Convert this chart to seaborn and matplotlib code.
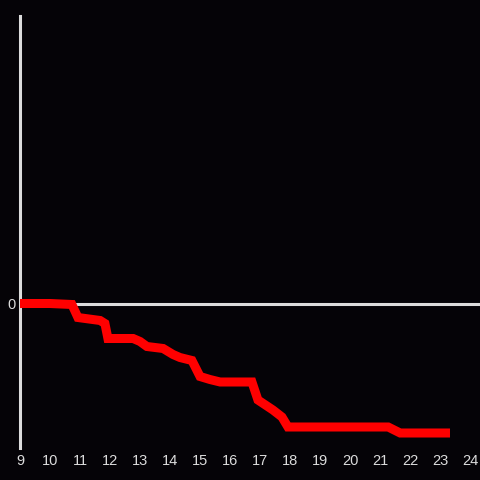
import numpy as np
import pandas as pd
import matplotlib
matplotlib.use("Agg")
import matplotlib.pyplot as plt
import seaborn as sns

# hour of day and cumulative value
hours = [9.0, 10.0, 10.73, 10.93, 11.67, 11.83, 11.93, 12.77, 13.0, 13.23,
         13.77, 14.1, 14.33, 14.73, 15.0, 15.33, 15.67, 16.73, 16.93, 17.43,
         17.73, 17.93, 21.27, 21.67, 23.33]
values = [0.0, 0.0, -0.1, -1.4, -1.7, -2.0, -3.5, -3.5, -3.8, -4.3,
          -4.5, -5.1, -5.4, -5.7, -7.3, -7.6, -7.85, -7.85, -9.65, -10.65,
          -11.35, -12.35, -12.35, -12.95, -12.95]
xticks = list(range(9, 25))

bg = "#050307"
fg = "#dcdcdc"

sns.set_theme(style="dark", rc={"axes.facecolor": bg, "figure.facecolor": bg})
plt.rcParams["font.family"] = ["Liberation Sans", "DejaVu Sans"]

df = pd.DataFrame({"hour": hours, "value": values})

fig = plt.figure(figsize=(4.8, 4.8), dpi=100)
ax = fig.add_axes([20 / 480, 32 / 480, 460 / 480, 432 / 480])

ax.axhline(0, color=fg, lw=2.2, zorder=1)
sns.lineplot(data=df, x="hour", y="value", color="#ff0000", lw=6.5,
             ax=ax, zorder=3, solid_joinstyle="miter", solid_capstyle="butt")

ax.set_xlim(9, 24.33)
ax.set_ylim(-14.45, 28.75)
ax.set_xticks(xticks)
ax.set_xticklabels([str(t) for t in xticks])
ax.set_yticks([0])
ax.set_yticklabels(["0"])
ax.set_xlabel("")
ax.set_ylabel("")
ax.grid(False)

for s in ["top", "right", "bottom"]:
    ax.spines[s].set_visible(False)
ax.spines["left"].set_color(fg)
ax.spines["left"].set_linewidth(2.2)

ax.tick_params(axis="both", length=0, colors=fg, labelsize=10.5)
ax.tick_params(axis="x", pad=4)
ax.tick_params(axis="y", pad=3)

fig.savefig("out.png", dpi=100, facecolor=bg)
